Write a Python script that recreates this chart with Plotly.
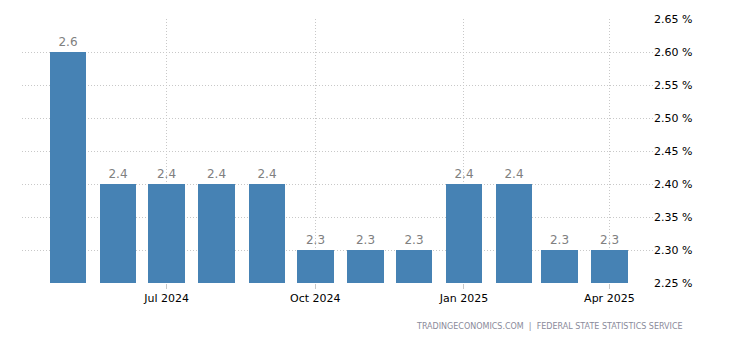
import plotly.graph_objects as go

# Monthly inflation-style series, May 2024 – Apr 2025
months = ["2024-05-01", "2024-06-01", "2024-07-01", "2024-08-01", "2024-09-01",
          "2024-10-01", "2024-11-01", "2024-12-01", "2025-01-01", "2025-02-01",
          "2025-03-01", "2025-04-01"]
values = [2.6, 2.4, 2.4, 2.4, 2.4, 2.3, 2.3, 2.3, 2.4, 2.4, 2.3, 2.3]
labels = [f"{v:.1f}" for v in values]

tick_dates = ["2024-07-01", "2024-10-01", "2025-01-01", "2025-04-01"]
tick_text = ["Jul 2024", "Oct 2024", "Jan 2025", "Apr 2025"]
y_ticks = [2.25, 2.30, 2.35, 2.40, 2.45, 2.50, 2.55, 2.60, 2.65]

DAY_MS = 86400000

fig = go.Figure(go.Bar(
    x=months,
    y=[v - 2.25 for v in values],
    base=2.25,
    width=[22.6 * DAY_MS] * len(months),
    marker=dict(color="#4682B4", line=dict(width=0)),
    text=labels,
    textposition="outside",
    textfont=dict(family="DejaVu Sans", size=12, color="#808080"),
    cliponaxis=False,
))

grid = dict(showgrid=True, gridcolor="#c8c8c8", griddash="1px,2px", gridwidth=1)

fig.update_layout(
    width=730, height=340,
    margin=dict(l=22, r=77, t=19, b=57),
    paper_bgcolor="white", plot_bgcolor="white",
    showlegend=False,
    bargap=0,
    font=dict(family="DejaVu Sans", size=11, color="#000000"),
    xaxis=dict(
        type="date",
        range=["2024-04-02 12:00", "2025-04-28"],
        tickvals=tick_dates, ticktext=tick_text,
        ticks="outside", ticklen=5, tickcolor="#c8c8c8",
        zeroline=False, showline=False,
        tickfont=dict(size=11, color="#000000"),
        **grid,
    ),
    yaxis=dict(
        side="right",
        range=[2.25, 2.65],
        tickvals=y_ticks,
        ticktext=[f"{t:.2f} %" for t in y_ticks],
        ticks="", zeroline=False, showline=False,
        tickfont=dict(size=11, color="#000000"),
        **grid,
    ),
    annotations=[dict(
        text="TRADINGECONOMICS.COM  |  FEDERAL STATE STATISTICS SERVICE",
        xref="paper", yref="paper", x=1.0507, y=-0.14,
        xanchor="right", yanchor="top", showarrow=False,
        font=dict(family="DejaVu Sans", size=8, color="#8a8a9a"),
    )],
)

fig.write_html("out.html")
